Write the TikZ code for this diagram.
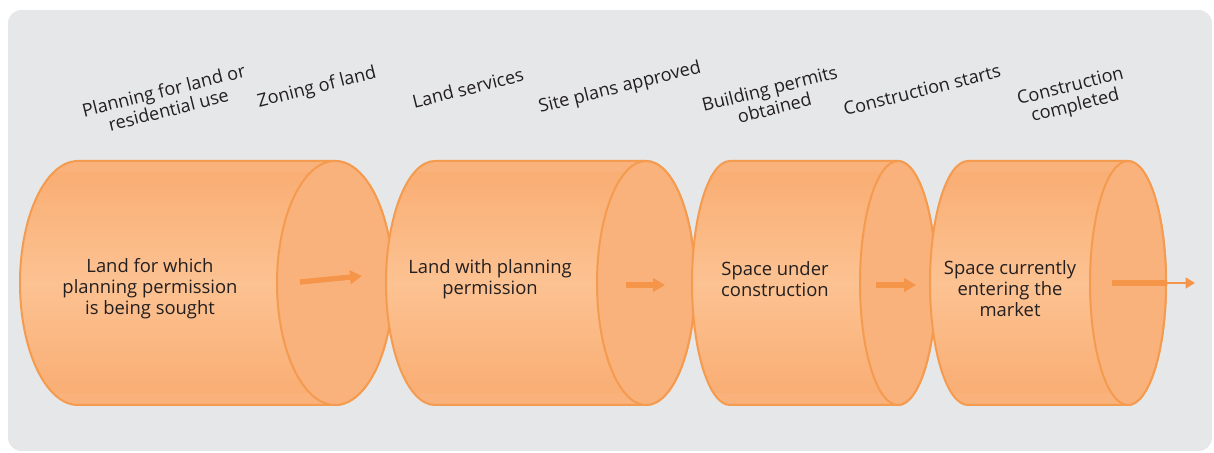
\documentclass[tikz,border=0pt]{standalone}
\usepackage{fontspec}
\setmainfont{Open Sans}
\usetikzlibrary{arrows.meta}
\definecolor{bgray}{HTML}{E6E7E8}
\definecolor{cylbase}{HTML}{F9B27C}
\definecolor{cyledge}{HTML}{F9AE74}
\definecolor{cyllight}{HTML}{FCC292}
\definecolor{cylline}{HTML}{F59B4F}
\definecolor{arrcol}{HTML}{F4954A}
\definecolor{ink}{HTML}{231F20}
\tikzset{
  cylstroke/.style={draw=cylline, line width=1.5pt},
  lab/.style={text=ink, align=center, rotate=14, inner sep=0pt, font=\fontsize{13.6}{15}\selectfont},
  intext/.style={text=ink, align=center, inner sep=0pt, font=\fontsize{13.8}{15.75}\selectfont},
  flow/.style={draw=arrcol, line width=4pt, -{Triangle[length=9pt,width=10pt]}},
}
% #1 name, #2 left centre x, #3 right centre x, #4 x radius
\newcommand\mycyl[4]{%
  \def\cylpath{(#2,292) -- (#3,292) arc[start angle=90,end angle=-90,x radius=#4,y radius=122] -- (#2,48) arc[start angle=270,end angle=90,x radius=#4,y radius=122] -- cycle}%
  \fill[cylbase] \cylpath;
  \begin{scope}
    \clip \cylpath;
    \shade[top color=cyledge, bottom color=cyledge, middle color=cyllight] (#2-#4,60) rectangle (#3+#4,280);
  \end{scope}
  \draw[cylstroke] \cylpath;
  \draw[cylstroke, fill=cylbase] (#3,170) ellipse [x radius=#4, y radius=122];
  \coordinate (#1) at (#3,170);
}
\begin{document}
\begin{tikzpicture}[x=0.75pt,y=0.75pt]
\useasboundingbox (0,0) rectangle (1214,453);
\fill[bgray, rounded corners=10pt] (8,2) rectangle (1212,443);

\mycyl{c1}{78}{335}{58}
\mycyl{c2}{435}{646}{49}
\mycyl{c3}{730}{898}{38}
\mycyl{c4}{968}{1128}{38}

\node[intext] (t1) at (150,164) {Land for which\\planning permission\\is being sought};
\node[intext] (t2) at (490,174) {Land with planning\\permission};
\node[intext] (t3) at (775,174) {Space under\\construction};
\node[intext] (t4) at (1010,164) {Space currently\\entering the\\market};

\coordinate (a1s) at (300,171);
\coordinate (a1e) at (362,177);
\draw[flow] (a1s) -- (a1e);
\coordinate (a2s) at (626,168);
\coordinate (a2e) at (665,168);
\draw[flow] (a2s) -- (a2e);
\coordinate (a3s) at (876,168);
\coordinate (a3e) at (916,168);
\draw[flow] (a3s) -- (a3e);
\coordinate (a4s) at (1112,170);
\coordinate (a4m) at (1167,170);
\coordinate (a4e) at (1195,170);
\draw[draw=arrcol, line width=4pt] (a4s) -- (a4m);
\draw[draw=arrcol, line width=1.8pt, -{Triangle[length=7pt,width=8pt]}] (a4m) -- (a4e);

\node[lab] (l1) at (166,353) {Planning for land or\\residential use};
\node[lab] (l2) at (317,365) {Zoning of land};
\node[lab] (l3) at (468,365) {Land services};
\node[lab] (l4) at (620,365) {Site plans approved};
\node[lab] (l5) at (772,355) {Building permits\\obtained};
\node[lab] (l6) at (922,363) {Construction starts};
\node[lab] (l7) at (1073,356) {Construction\\completed};
\end{tikzpicture}
\end{document}
